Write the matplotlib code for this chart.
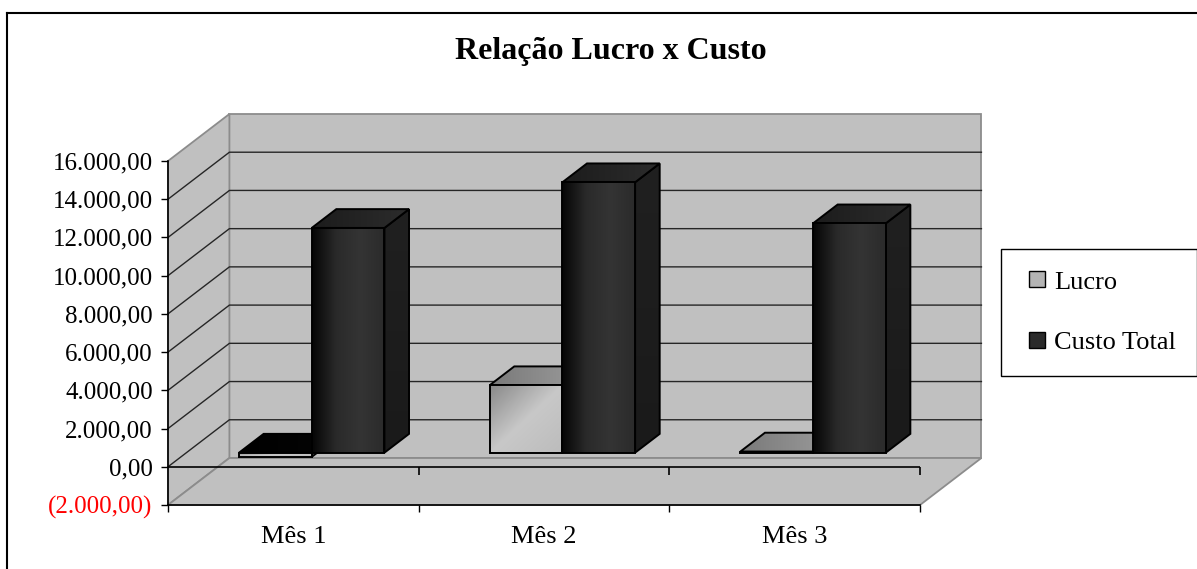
import numpy as np
import matplotlib
matplotlib.use('Agg')
import matplotlib.pyplot as plt
import matplotlib.markers as mmarkers
from matplotlib.patches import Polygon, Patch, Rectangle
from matplotlib.colors import LinearSegmentedColormap
from matplotlib.legend_handler import HandlerPatch
from matplotlib.lines import Line2D

# dados
meses = ['Mês 1', 'Mês 2', 'Mês 3']
lucro = [-220, 3530, 60]
custo_total = [11760, 14150, 12000]
series = ['Lucro', 'Custo Total']
y_ticks = list(range(-2000, 16001, 2000))

# projecao obliqua (profundidade total em unidades de categoria / valor)
DX, DY = 0.245, 2460
BAR_W = 0.29
D0, D1 = 0.3, 0.7

plt.rcParams['font.family'] = ['Liberation Serif', 'DejaVu Serif']


def fmt(v):
    s = f'{abs(v):,.2f}'.replace(',', 'X').replace('.', ',').replace('X', '.')
    return f'({s})' if v < 0 else s


def grad_poly(ax, verts, colors, direction, zorder):
    xs, ys = zip(*verts)
    t = np.linspace(0, 1, 64)
    X, Y = np.meshgrid(t, t)
    if direction == 'h':
        g = X
    elif direction == 'diag':
        g = (X + (1 - Y)) / 2
    else:
        g = Y
    cmap = LinearSegmentedColormap.from_list('g', colors)
    im = ax.imshow(g, extent=(min(xs), max(xs), min(ys), max(ys)), origin='lower',
                   cmap=cmap, aspect='auto', interpolation='bilinear', zorder=zorder)
    im.set_clip_path(Polygon(verts, closed=True, transform=ax.transData))
    ax.add_patch(Polygon(verts, closed=True, facecolor='none', edgecolor='black',
                         lw=1.4, joinstyle='miter', zorder=zorder + 0.1))


def draw_bar(ax, xl, xr, value, front_c, front_dir, top_c, side_c, zorder):
    lo, hi = min(0, value), max(0, value)
    ox0, oy0 = D0 * DX, D0 * DY
    ox1, oy1 = D1 * DX, D1 * DY
    side = [(xr + ox0, lo + oy0), (xr + ox1, lo + oy1), (xr + ox1, hi + oy1), (xr + ox0, hi + oy0)]
    top = [(xl + ox0, hi + oy0), (xr + ox0, hi + oy0), (xr + ox1, hi + oy1), (xl + ox1, hi + oy1)]
    front = [(xl + ox0, lo + oy0), (xr + ox0, lo + oy0), (xr + ox0, hi + oy0), (xl + ox0, hi + oy0)]
    grad_poly(ax, side, side_c, 'v', zorder)
    grad_poly(ax, top, top_c, 'h', zorder + 0.2)
    grad_poly(ax, front, front_c, front_dir, zorder + 0.4)


def square_handle(legend, orig_handle, xdescent, ydescent, width, height, fontsize):
    # quadradinho encostado no texto, como no Excel
    return Rectangle((-xdescent + width - height, -ydescent), height, height)


fig = plt.figure(figsize=(11.97, 5.69), dpi=100)
ax = fig.add_axes([168 / 1197, 64 / 569, 752 / 1197, 344 / 569])
ax.patch.set_visible(False)

n = len(meses)
ymin, ymax = y_ticks[0], y_ticks[-1]

# paredes e piso
wall = dict(facecolor='#c0c0c0', edgecolor='#8c8c8c', lw=1.3, clip_on=False, zorder=0.5)
ax.add_patch(Polygon([(DX, ymin + DY), (n + DX, ymin + DY), (n + DX, ymax + DY), (DX, ymax + DY)], **wall))
ax.add_patch(Polygon([(0, ymin), (DX, ymin + DY), (DX, ymax + DY), (0, ymax)], **wall))
ax.add_patch(Polygon([(0, ymin), (n, ymin), (n + DX, ymin + DY), (DX, ymin + DY)], **wall))

# linhas de grade
for v in y_ticks[1:-1]:
    ax.plot([0, DX, n + DX], [v, v + DY, v + DY], color='#262626', lw=1, zorder=1, clip_on=False)

# eixo de categorias no zero
ax.plot([0, n], [0, 0], color='black', lw=1.2, zorder=2)
ax.plot(range(1, n + 1), [0] * n, ls='none', marker=mmarkers.TICKDOWN, ms=6, mew=1.2,
        color='black', zorder=2)

# barras
for i in range(n):
    c = i + 0.5
    top_l = ['#7a7a7a', '#9c9c9c'] if lucro[i] >= 0 else ['#000000', '#050505']
    draw_bar(ax, c - BAR_W, c, lucro[i], ['#8a8a8a', '#c8c8c8', '#bcbcbc'], 'diag',
             top_l, ['#8a8a8a', '#a0a0a0'], 3 + i)
    draw_bar(ax, c, c + BAR_W, custo_total[i], ['#060606', '#2a2a2a', '#343434', '#2b2b2b'], 'h',
             ['#1c1c1c', '#2c2c2c'], ['#1a1a1a', '#202020'], 3.5 + i)

ax.set_xlim(0, n)
ax.set_ylim(ymin, ymax)

ax.set_yticks(y_ticks, [fmt(v) for v in y_ticks])
ax.tick_params(axis='y', direction='out', length=5, width=1, pad=6, labelsize=18)
ax.get_yticklabels()[0].set_color('red')

ax.set_xticks([i + 0.5 for i in range(n)], meses)
ax.set_xticks(range(n + 1), minor=True)
ax.tick_params(axis='x', which='major', length=0, pad=15, labelsize=19)
ax.tick_params(axis='x', which='minor', direction='out', length=5, width=1)

ax.spines['top'].set_visible(False)
ax.spines['right'].set_visible(False)
ax.spines['left'].set_linewidth(1.2)
ax.spines['bottom'].set_linewidth(1.2)

handles = [Patch(facecolor='#b4b4b4', edgecolor='black', lw=1),
           Patch(facecolor='#2a2a2a', edgecolor='black', lw=1)]
leg = fig.legend(handles, series, loc='upper left', mode='expand',
                 bbox_to_anchor=(1001 / 1197, 1 - 374 / 569, 196 / 1197, 125 / 569),
                 fontsize=19, frameon=True, fancybox=False, edgecolor='black', framealpha=1,
                 borderpad=0.85, labelspacing=1.44, handlelength=0.8, handleheight=0.55,
                 handletextpad=0.35, borderaxespad=0,
                 handler_map={Patch: HandlerPatch(patch_func=square_handle)})
leg.get_frame().set_linewidth(1)

fig.text(611 / 1197, 1 - 52 / 569, 'Relação Lucro x Custo', ha='center', va='center',
         fontsize=23, fontweight='bold')

# moldura do grafico
fig.add_artist(Line2D([7 / 1197, 1], [1 - 13 / 569] * 2, transform=fig.transFigure, color='black', lw=1.5))
fig.add_artist(Line2D([7 / 1197] * 2, [0, 1 - 13 / 569], transform=fig.transFigure, color='black', lw=1.5))

fig.savefig('out.png', dpi=100)
